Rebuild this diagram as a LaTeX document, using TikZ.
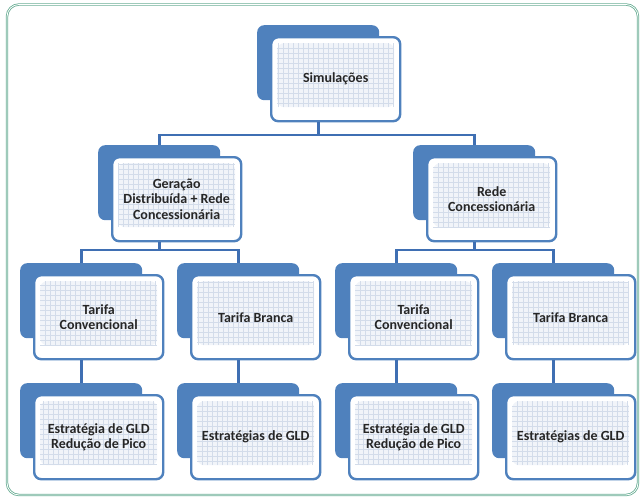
\documentclass[tikz,border=0pt]{standalone}
\usepackage{fontspec}
\setmainfont{Carlito}
\usepackage{tikz}
\definecolor{boxblue}{HTML}{4F81BD}
\definecolor{lineblue}{HTML}{3F6FB3}
\definecolor{gridblue}{HTML}{D3DCEA}
\definecolor{gridfill}{HTML}{F1F4F9}
\definecolor{framegreen}{HTML}{6AAE95}
\newcommand{\blk}[4]{\node[backbox] (#1-b) at (#2,#3) {};
  \node[frontbox] (#1) at ([shift={(13pt,-11pt)}]#1-b.north west) {#4};}

\begin{document}
\begin{tikzpicture}[x=1pt,y=1pt,
      backbox/.style={rectangle,rounded corners=7pt,fill=boxblue,anchor=north west,
        minimum width=122pt,minimum height=75pt,inner sep=0pt},
      frontbox/.style={rectangle,rounded corners=7pt,draw=boxblue,line width=2.4pt,fill=white,
        anchor=north west,minimum width=129pt,minimum height=84pt,inner sep=0pt,align=center,
        text=black!85,font=\bfseries\fontsize{14}{15.5}\selectfont,
        path picture={
          \fill[gridfill] ([shift={(6pt,-6pt)}]path picture bounding box.north west)
            rectangle ([shift={(-6pt,14pt)}]path picture bounding box.south east);
          \draw[gridblue,line width=0.35pt,step=5pt] ([shift={(6pt,-6pt)}]path picture bounding box.north west)
            grid ([shift={(-6pt,14pt)}]path picture bounding box.south east);}},
      link/.style={draw=lineblue,line width=2.8pt},
      frame/.style={draw=framegreen,line width=0.8pt,double=white,double distance=0.8pt,rounded corners=12pt}
      ]
      \useasboundingbox (0,0) rectangle (643,-498);
      \draw[frame] (7,-4.5) rectangle (638,-495);
      \blk{sim}{257}{-25}{Simulações}
      \blk{gd}{98}{-145}{Geração\\Distribuída + Rede\\Concessionária}
      \blk{rc}{413}{-145}{Rede\\Concessionária}
      \blk{tc1}{20}{-263}{Tarifa\\Convencional}
      \blk{tb1}{177}{-263}{Tarifa Branca}
      \blk{tc2}{335}{-263}{Tarifa\\Convencional}
      \blk{tb2}{492}{-263}{Tarifa Branca}
      \blk{gld1}{20}{-383}{Estratégia de GLD\\Redução de Pico}
      \blk{gld2}{177}{-383}{Estratégias de GLD}
      \blk{gld3}{335}{-383}{Estratégia de GLD\\Redução de Pico}
      \blk{gld4}{492}{-383}{Estratégias de GLD}
      \coordinate (bar1) at (0,-135);
      \coordinate (bar2) at (0,-250);
      \draw[link] (sim-b.center |- sim.south) -- (sim-b.center |- bar1);
      \draw[link] (gd-b.north) |- (rc-b.north |- bar1) -- (rc-b.north);
      \draw[link] (gd-b.center |- gd.south) -- (gd-b.center |- bar2);
      \draw[link] (rc-b.center |- rc.south) -- (rc-b.center |- bar2);
      \draw[link] (tc1-b.north) |- (tb1-b.north |- bar2) -- (tb1-b.north);
      \draw[link] (tc2-b.north) |- (tb2-b.north |- bar2) -- (tb2-b.north);
      \draw[link] (tc1-b.center |- tc1.south) -- (gld1-b.north);
      \draw[link] (tb1-b.center |- tb1.south) -- (gld2-b.north);
      \draw[link] (tc2-b.center |- tc2.south) -- (gld3-b.north);
      \draw[link] (tb2-b.center |- tb2.south) -- (gld4-b.north);
    \end{tikzpicture}
\end{document}
